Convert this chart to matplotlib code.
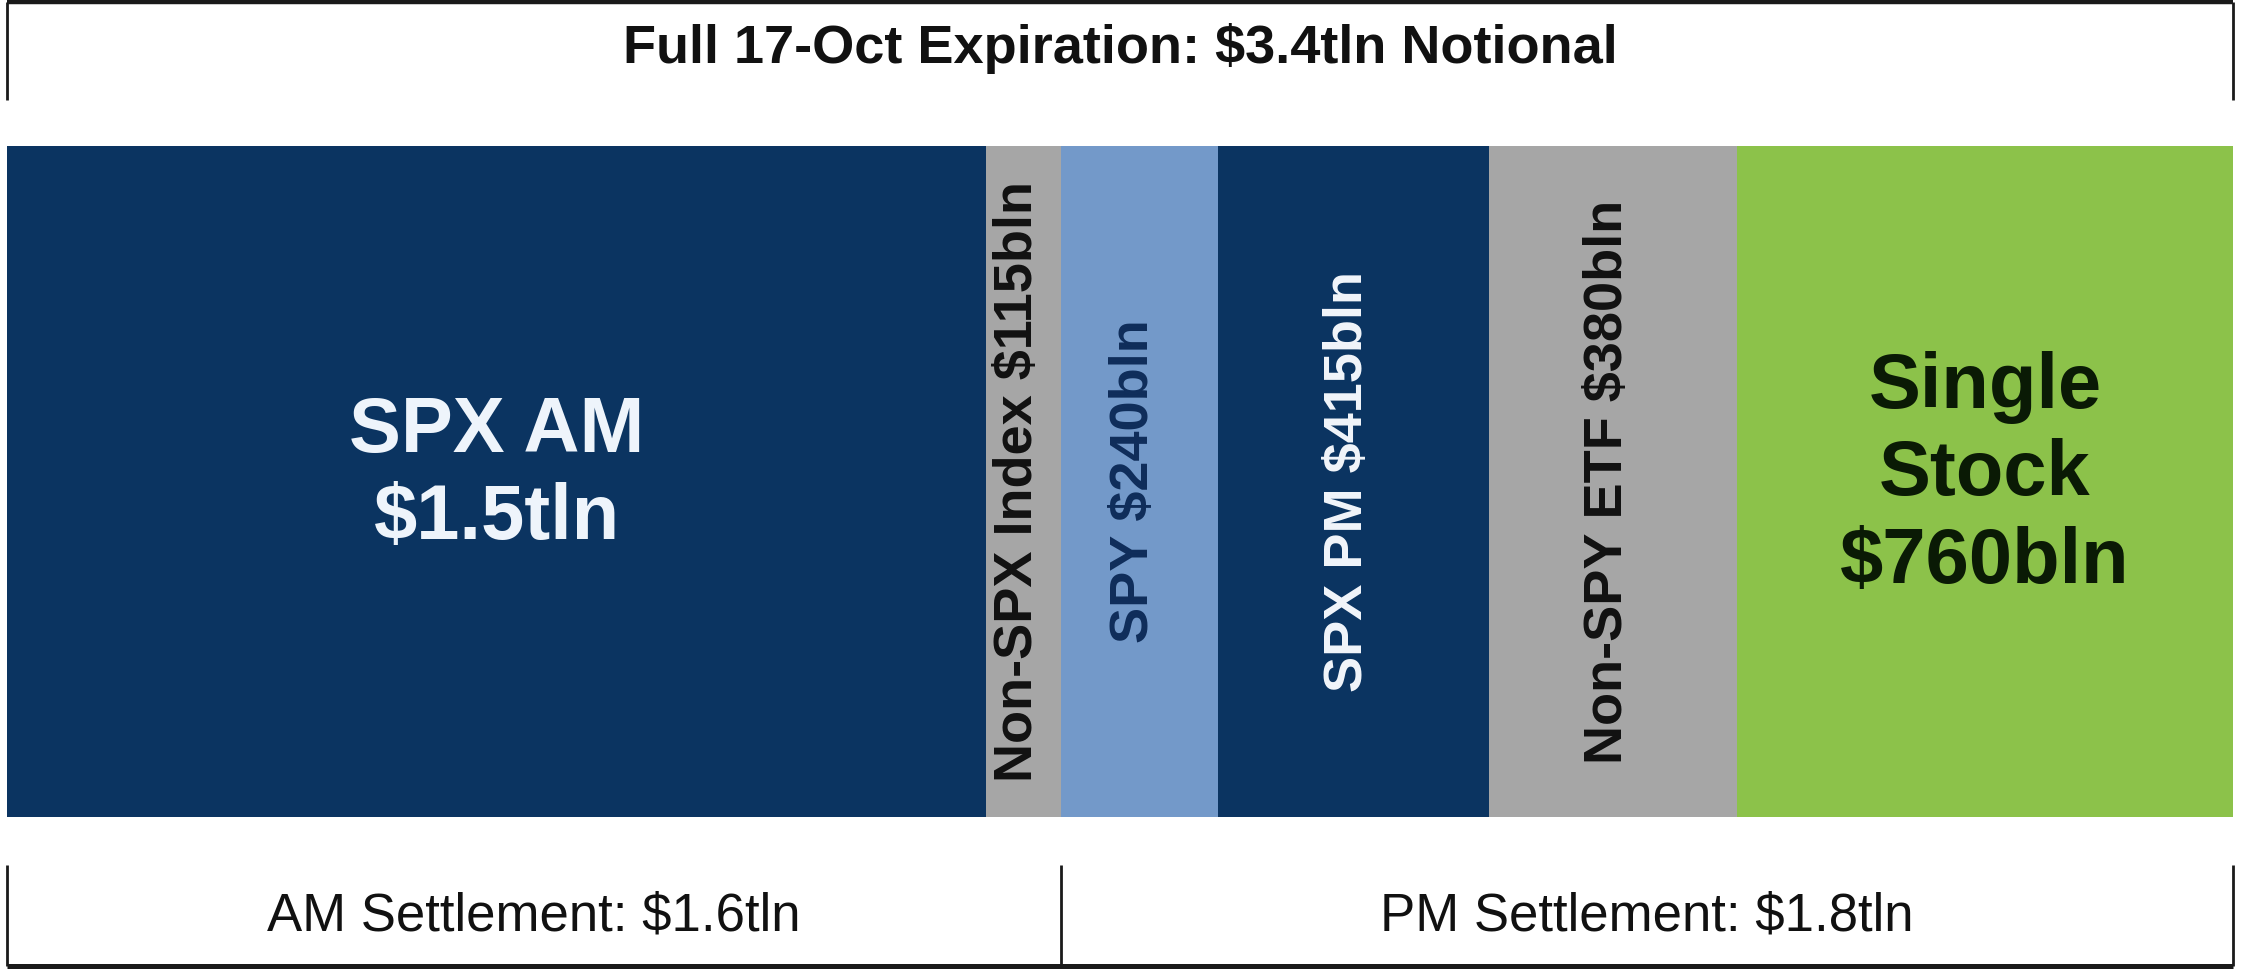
import numpy as np
import matplotlib
matplotlib.use('Agg')
import matplotlib.pyplot as plt

plt.rcParams['font.family'] = ['Liberation Sans', 'DejaVu Sans']

# notional per bucket, $bln
segments = ['SPX AM', 'Non-SPX Index', 'SPY', 'SPX PM', 'Non-SPY ETF', 'Single Stock']
values = [1500, 115, 240, 415, 380, 760]
labels = ['SPX AM\n$1.5tln', 'Non-SPX Index $115bln', 'SPY $240bln',
          'SPX PM $415bln', 'Non-SPY ETF $380bln', 'Single\nStock\n$760bln']
colors = ['#0b3461', '#a6a6a6', '#7399c9', '#0b3461', '#a6a6a6', '#8cc24a']
text_colors = ['#eef4fb', '#111111', '#0f2d5a', '#f2f6fb', '#111111', '#0a1a05']
rotated = [False, True, True, True, True, False]

title = 'Full 17-Oct Expiration: $3.4tln Notional'
am_label = 'AM Settlement: $1.6tln'
pm_label = 'PM Settlement: $1.8tln'
am_count = 2  # first two buckets settle AM

W, H = 2244, 976
fig = plt.figure(figsize=(W / 100, H / 100), dpi=100)
ax = fig.add_axes([7 / W, 159 / H, 2226 / W, 671 / H])

total = sum(values)
lefts = np.concatenate([[0], np.cumsum(values)[:-1]])
ax.barh(0, values, left=lefts, height=1, color=colors, edgecolor='none')
ax.set_xlim(0, total)
ax.set_ylim(-0.5, 0.5)
ax.axis('off')

for left, v, lab, tc, rot in zip(lefts, values, labels, text_colors, rotated):
    cx = left + v / 2
    if rot:
        ax.text(cx - 8, 0, lab, rotation=90, ha='center', va='center',
                fontsize=39, fontweight='bold', color=tc)
    else:
        ax.text(cx, 0.01, lab, ha='center', va='center', fontsize=56,
                fontweight='bold', color=tc, linespacing=1.25)

tr = ax.get_xaxis_transform()
line_kw = dict(transform=tr, clip_on=False, color='#1a1a1a', solid_capstyle='butt')

# top bracket
top_y, top_tick = 1.2146, 1.0686
ax.plot([0, total], [top_y, top_y], lw=3.2, **line_kw)
for x in [0, total]:
    ax.plot([x, x], [top_y, top_tick], lw=2.0, **line_kw)
ax.text(total / 2, (H - 63 - 159) / 671, title, transform=tr, ha='center',
        va='baseline', fontsize=39, fontweight='bold', color='#111111')

# bottom bracket
am_end = sum(values[:am_count])
bot_y, bot_tick = -0.2221, -0.0715
ax.plot([0, total], [bot_y, bot_y], lw=3.6, **line_kw)
for x in [0, am_end, total]:
    ax.plot([x, x], [bot_y, bot_tick], lw=2.0, **line_kw)
ax.text(am_end / 2, (H - 930 - 159) / 671, am_label, transform=tr,
        ha='center', va='baseline', fontsize=38, color='#111111')
ax.text((am_end + total) / 2, (H - 930 - 159) / 671, pm_label, transform=tr,
        ha='center', va='baseline', fontsize=38, color='#111111')

fig.savefig('out.png', dpi=100)
